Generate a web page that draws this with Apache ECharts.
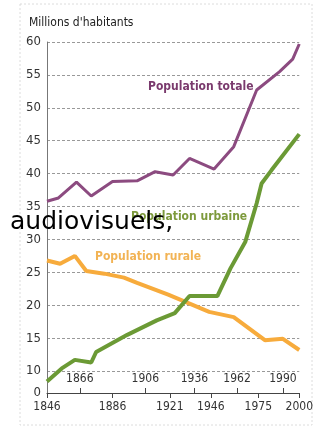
<!DOCTYPE html>
<html>
<head>
<meta charset="utf-8">
<script src="https://cdn.jsdelivr.net/npm/echarts@6/dist/echarts.min.js"></script>
<style>
  html, body { margin: 0; padding: 0; background: #fff; }
  #chart { width: 316px; height: 427px; }
</style>
</head>
<body>
<div id="chart"></div>
<script>
// population de la France (millions)
var totale = [[1846, 35.8], [1853, 36.3], [1864, 38.7], [1873, 36.6], [1886, 38.8], [1901, 38.9],
  [1912, 40.3], [1923, 39.8], [1933, 42.3], [1948, 40.7], [1960, 44.1], [1974, 52.7],
  [1988, 55.5], [1996, 57.4], [2000, 59.7]];
var urbaine = [[1846, 8.4], [1855, 10.4], [1863, 11.7], [1873, 11.3], [1876, 12.9], [1895, 15.5],
  [1913, 17.7], [1924, 18.8], [1933, 21.4], [1950, 21.4], [1958, 25.6], [1967, 29.6],
  [1974, 35.5], [1977, 38.5], [1983, 40.5], [2000, 46.0]];
var rurale = [[1846, 26.8], [1854, 26.3], [1863, 27.5], [1870, 25.2], [1881, 24.8], [1893, 24.2],
  [1901, 23.4], [1920, 21.6], [1945, 19.0], [1960, 18.2], [1979, 14.7], [1990, 14.9], [2000, 13.2]];

var anneesBas = [1846, 1886, 1921, 1946, 1975, 2000];
var anneesHaut = [1866, 1906, 1936, 1962, 1990];
// axe coupé : le bas de l'axe est noté 0
var yMin = 20 / 3;
var yTicks = [yMin, 10, 15, 20, 25, 30, 35, 40, 45, 50, 55, 60];

var police = '"DejaVu Sans Condensed", "Liberation Sans Narrow", sans-serif';

var chart = echarts.init(document.getElementById('chart'));

var option = {
  backgroundColor: '#fff',
  animation: false,
  grid: {
    left: 47,
    right: 10,
    top: 42,
    height: 351
  },
  xAxis: [
    {
      type: 'value',
      min: 1846,
      max: 2000,
      position: 'bottom',
      splitLine: { show: false },
      axisLine: { lineStyle: { color: '#444', width: 1 } },
      axisTick: { customValues: anneesBas, length: 5, lineStyle: { color: '#444' } },
      axisLabel: {
        customValues: anneesBas,
        color: '#333',
        fontFamily: police,
        fontSize: 12,
        margin: 8,
        formatter: function (v) { return String(v); }
      }
    },
    {
      type: 'value',
      min: 1846,
      max: 2000,
      position: 'bottom',
      splitLine: { show: false },
      axisLine: { show: false },
      axisTick: { customValues: anneesHaut, inside: true, length: 5, lineStyle: { color: '#444' } },
      axisLabel: {
        customValues: anneesHaut,
        inside: true,
        color: '#333',
        fontFamily: police,
        fontSize: 12,
        margin: 8,
        formatter: function (v) { return String(v); }
      }
    }
  ],
  yAxis: {
    type: 'value',
    min: yMin,
    max: 60,
    axisLine: { show: true, lineStyle: { color: '#777', width: 1 } },
    axisTick: { show: false, customValues: yTicks },
    axisLabel: {
      customValues: yTicks,
      color: '#333',
      fontFamily: police,
      fontSize: 13,
      margin: 6,
      formatter: function (v) { return v < 10 ? '0' : String(v); }
    },
    splitLine: { lineStyle: { color: '#999', type: [3, 2], width: 1 } }
  },
  series: [
    {
      name: 'Population totale',
      type: 'line',
      data: totale,
      symbol: 'none',
      lineStyle: { color: '#8c4b80', width: 3 }
    },
    {
      name: 'Population rurale',
      type: 'line',
      data: rurale,
      symbol: 'none',
      lineStyle: { color: '#f7ab3c', width: 4 }
    },
    {
      name: 'Population urbaine',
      type: 'line',
      data: urbaine,
      symbol: 'none',
      lineStyle: { color: '#6b9a35', width: 4 }
    }
  ],
  graphic: [
    {
      type: 'rect',
      shape: { x: 20, y: 4, width: 292, height: 421 },
      style: { fill: 'none', stroke: '#dcdcdc', lineWidth: 1, lineDash: [2, 2] },
      z: -1
    },
    {
      type: 'text', left: 29, top: 17,
      style: { text: "Millions d'habitants", fill: '#222', font: '12px ' + police }
    },
    {
      type: 'text', left: 148, top: 81,
      style: { text: 'Population totale', fill: '#7a3a6d', font: 'bold 12px ' + police }
    },
    {
      type: 'text', left: 131, top: 211,
      style: { text: 'Population urbaine', fill: '#7d9a3c', font: 'bold 12px ' + police }
    },
    {
      type: 'text', left: 95, top: 251,
      style: { text: 'Population rurale', fill: '#f2b354', font: 'bold 12px ' + police }
    },
    {
      type: 'text', left: 10, top: 210, z: 100,
      style: { text: 'audiovisuels,', fill: '#000', font: '25px "DejaVu Sans", sans-serif' }
    }
  ]
};

chart.setOption(option);
</script>
</body>
</html>
